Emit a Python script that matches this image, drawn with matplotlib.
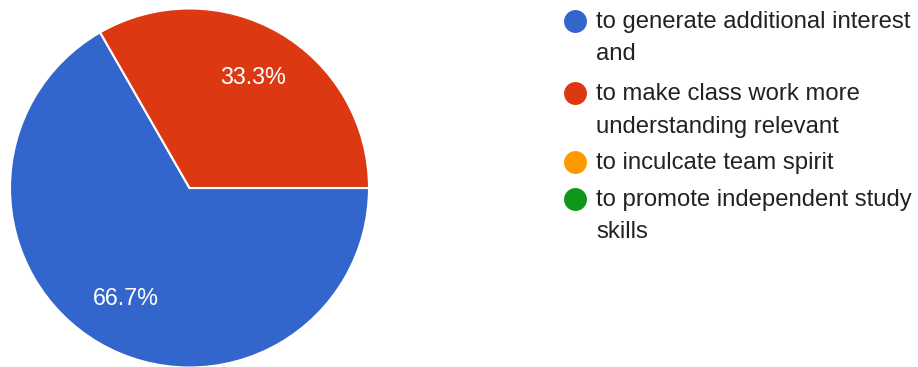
import matplotlib.pyplot as plt

plt.rcParams["font.family"] = ["Liberation Sans", "DejaVu Sans"]

# answers and share of responses
labels = [
    "to generate additional interest\nand",
    "to make class work more\nunderstanding relevant",
    "to inculcate team spirit",
    "to promote independent study\nskills",
]
shares = [66.7, 33.3, 0.0, 0.0]
colors = ["#3366cc", "#dc3912", "#ff9900", "#109618"]

W, H = 918, 367
fig = plt.figure(figsize=(W / 100, H / 100), dpi=100)

# pie: centre (189.5, 188) px, radius ~179.5 px
cx, cy, r = 189.5, 188, 179.5
ax = fig.add_axes([(cx - r) / W, (H - cy - r) / H, 2 * r / W, 2 * r / H])
nonzero = [(s, c) for s, c in zip(shares, colors) if s > 0]
ax.pie(
    [s for s, _ in nonzero],
    colors=[c for _, c in nonzero],
    startangle=0,
    counterclock=False,
    autopct="%.1f%%",
    pctdistance=0.71,
    wedgeprops=dict(edgecolor="white", linewidth=1.5),
    textprops=dict(color="white", fontsize=16.8),
)
ax.set_xlim(-1, 1)
ax.set_ylim(-1, 1)

# legend drawn on a pixel-scaled overlay
leg = fig.add_axes([0, 0, 1, 1])
leg.set_xlim(0, W)
leg.set_ylim(H, 0)
leg.axis("off")

first_baselines = [28, 100, 169, 206]
line_step = 32.5
for lab, col, y0 in zip(labels, colors, first_baselines):
    leg.plot(574.5, y0 - 7, "o", color=col, markersize=16.5, markeredgewidth=0)
    for i, line in enumerate(lab.split("\n")):
        leg.text(596, y0 + i * line_step, line, fontsize=17.2, color="#222222",
                 va="baseline", ha="left")

fig.savefig("out.png", dpi=100)
